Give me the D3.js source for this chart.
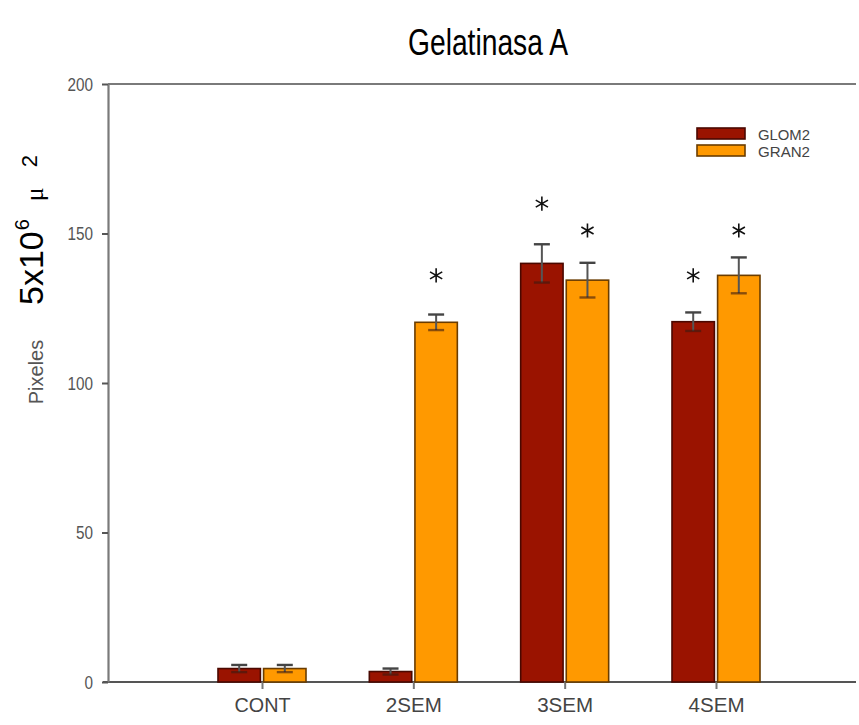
<!DOCTYPE html>
<html>
<head>
<meta charset="utf-8">
<script src="https://cdn.jsdelivr.net/npm/d3@7"></script>
<style>
  body { margin: 0; background: #fff; }
  text { font-family: "Liberation Sans", Arial, sans-serif; }
</style>
</head>
<body>
<svg width="859" height="725"></svg>
<script>
// data
const categories = ["CONT", "2SEM", "3SEM", "4SEM"];
const series = ["GLOM2", "GRAN2"];
const glom = [4.5, 3.5, 140, 120.5];
const glomErr = [1.2, 1.0, 6.4, 3.1];
const gran = [4.5, 120.3, 134.4, 136];
const granErr = [1.2, 2.6, 5.8, 6];
// asterisk heights (in axis units), null = no mark
const glomStar = [null, null, 160, 136];
const granStar = [null, 136, 151, 151];
const yTicks = [0, 50, 100, 150, 200];

const colors = { GLOM2: "#9a1300", GRAN2: "#ff9900" };
const strokes = { GLOM2: "#4a0800", GRAN2: "#6a3c00" };

const svg = d3.select("svg"),
  width = +svg.attr("width"),
  height = +svg.attr("height");

const y = d3.scaleLinear().domain([0, 200]).range([682, 84]);
const x0 = d3.scalePoint().domain(categories).range([262, 716]);
const x1 = d3.scaleBand().domain(series).range([-44, 44]).paddingInner(0.07);

const rows = categories.map((c, i) => ({
  cat: c,
  vals: [
    { key: "GLOM2", v: glom[i], e: glomErr[i], star: glomStar[i] },
    { key: "GRAN2", v: gran[i], e: granErr[i], star: granStar[i] }
  ]
}));

// title
svg.append("text")
  .attr("x", 488).attr("y", 55)
  .attr("text-anchor", "middle")
  .attr("font-size", 36)
  .attr("textLength", 160)
  .attr("lengthAdjust", "spacingAndGlyphs")
  .text("Gelatinasa A");

// frame lines
const axisColor = "#7a7a7a";
svg.append("line")
  .attr("x1", 108).attr("x2", 856)
  .attr("y1", y(200)).attr("y2", y(200))
  .attr("stroke", axisColor).attr("stroke-width", 2.2);

svg.append("line")
  .attr("x1", 103).attr("x2", 856)
  .attr("y1", y(0)).attr("y2", y(0))
  .attr("stroke", "#555").attr("stroke-width", 2);

// y axis
const yAxis = svg.append("g")
  .attr("transform", "translate(108,0)")
  .call(d3.axisLeft(y).tickValues(yTicks).tickSize(6).tickSizeOuter(0).tickPadding(9));
yAxis.select(".domain").attr("stroke", axisColor).attr("stroke-width", 2.2);
yAxis.selectAll(".tick line").attr("stroke", "#555").attr("stroke-width", 2);
yAxis.selectAll(".tick text")
  .attr("font-family", "Liberation Sans, Arial, sans-serif")
  .attr("font-size", 19)
  .attr("fill", "#555")
  .attr("textLength", d => String(d).length * 8.5)
  .attr("lengthAdjust", "spacingAndGlyphs");

// x axis
const xAxis = svg.append("g")
  .attr("transform", `translate(0,${y(0)})`)
  .call(d3.axisBottom(x0).tickSize(7).tickSizeOuter(0).tickPadding(9));
xAxis.select(".domain").remove();
xAxis.selectAll(".tick line").attr("stroke", "#777").attr("stroke-width", 2);
xAxis.selectAll(".tick text")
  .attr("font-family", "Liberation Sans, Arial, sans-serif")
  .attr("font-size", 20)
  .attr("fill", "#444")
  .attr("textLength", 56)
  .attr("lengthAdjust", "spacingAndGlyphs");

// y labels
svg.append("text")
  .attr("transform", "translate(43,372) rotate(-90)")
  .attr("text-anchor", "middle")
  .attr("font-size", 20)
  .attr("fill", "#555")
  .text("Pixeles");

const unit = svg.append("text")
  .attr("transform", "translate(43,305) rotate(-90)")
  .attr("fill", "#000");
unit.append("tspan").attr("font-size", 34).text("5x10");
unit.append("tspan").attr("font-size", 20).attr("dy", -14).attr("dx", 1).text("6");
unit.append("tspan").attr("font-size", 26).attr("dy", 14).attr("dx", 18)
  .attr("font-family", "Liberation Serif, Times New Roman, serif").text("\u03bc");
unit.append("tspan").attr("font-size", 22).attr("dy", -6).attr("dx", 20).text("2");

// bars
const groups = svg.append("g").selectAll("g")
  .data(rows)
  .join("g")
  .attr("transform", d => `translate(${x0(d.cat)},0)`);

groups.selectAll("rect")
  .data(d => d.vals)
  .join("rect")
  .attr("x", d => x1(d.key))
  .attr("width", x1.bandwidth())
  .attr("y", d => y(d.v))
  .attr("height", d => y(0) - y(d.v))
  .attr("fill", d => colors[d.key])
  .attr("stroke", d => strokes[d.key])
  .attr("stroke-width", 1.6);

// error bars
const err = groups.selectAll("g.err")
  .data(d => d.vals)
  .join("g")
  .attr("class", "err")
  .attr("transform", d => `translate(${x1(d.key) + x1.bandwidth() / 2},0)`);

err.append("line")
  .attr("y1", d => y(d.v - d.e)).attr("y2", d => y(d.v + d.e))
  .attr("stroke", "#555").attr("stroke-width", 2);
err.append("line")
  .attr("x1", -8).attr("x2", 8)
  .attr("y1", d => y(d.v + d.e)).attr("y2", d => y(d.v + d.e))
  .attr("stroke", "#444").attr("stroke-width", 2.4);
err.append("line")
  .attr("x1", -8).attr("x2", 8)
  .attr("y1", d => y(d.v - d.e)).attr("y2", d => y(d.v - d.e))
  .attr("stroke", "#3a1a10").attr("stroke-opacity", 0.6).attr("stroke-width", 2.4);

// significance asterisks
err.filter(d => d.star != null)
  .append("path")
  .attr("transform", d => `translate(0,${y(d.star)})`)
  .attr("d", d3.symbol(d3.symbolAsterisk, 140))
  .attr("fill", "none")
  .attr("stroke", "#111")
  .attr("stroke-width", 1.6);

// legend
const legend = svg.append("g")
  .attr("transform", "translate(697,128)");

const legendItems = legend.selectAll("g")
  .data(series)
  .join("g")
  .attr("transform", (d, i) => `translate(0,${i * 17})`);

legendItems.append("rect")
  .attr("width", 48).attr("height", 11)
  .attr("fill", d => colors[d])
  .attr("stroke", d => strokes[d])
  .attr("stroke-width", 1.6);

legendItems.append("text")
  .attr("x", 61).attr("y", 11.5)
  .attr("font-size", 15.5)
  .attr("fill", "#444")
  .attr("textLength", 52)
  .attr("lengthAdjust", "spacingAndGlyphs")
  .text(d => d);
</script>
</body>
</html>
